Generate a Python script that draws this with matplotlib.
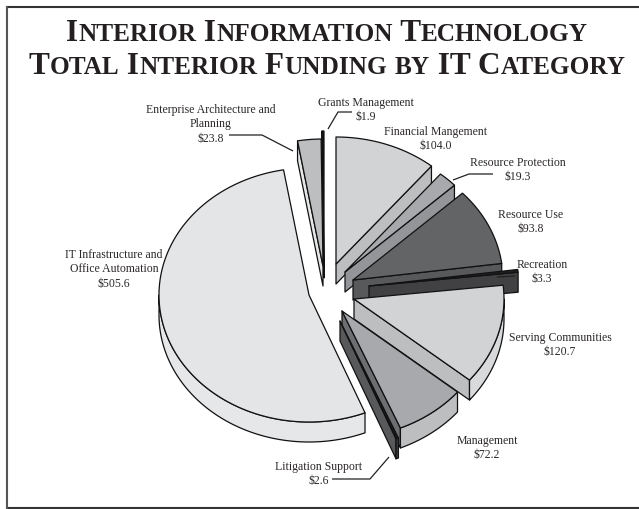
import numpy as np
import matplotlib
matplotlib.use('Agg')
import matplotlib.pyplot as plt
from matplotlib.patches import Polygon

# funding by IT category, clockwise from 12 o'clock
categories = ['Financial Mangement', 'Resource Protection', 'Resource Use', 'Recreation',
              'Serving Communities', 'Management', 'Litigation Support',
              'IT Infrastructure and\nOffice Automation',
              'Enterprise Architecture and\nPlanning', 'Grants Management']
values = [104.0, 19.3, 93.8, 3.3, 120.7, 72.2, 2.6, 505.6, 23.8, 1.9]
title_lines = ['Interior Information Technology', 'Total Interior Funding by IT Category']

# explode offset of each slice in pixels
explode_x = [10, 19, 27, 43, 28, 16, 14, -17, -3, -2]
explode_y = [-24, -16, -8, -2, 11, 23, 33, 7, -22, -30]
top_colors = ['#d1d3d4', '#a7a9ac', '#636466', '#231f20', '#d1d3d4', '#a7a9ac', '#1a1718', '#e4e5e7', '#bcbec0', '#1a1718']
cut_colors = ['#bcbec0', '#939598', '#58595b', '#414042', '#bcbec0', '#6d6e71', '#58595b', '#e4e5e7', '#e6e7e8', '#231f20']
rim_colors = ['#bcbec0', '#939598', '#58595b', '#414042', '#d9dadb', '#bcbec0', '#414042', '#e6e7e8', '#bcbec0', '#231f20']
draw_order = [7, 9, 8, 0, 1, 2, 3, 4, 5, 6]
label_xy = [(436, 131), (518, 162), (531, 214), (542, 264), (560, 337), (487, 440),
            (319, 466), (114, 254), (211, 109), (366, 102)]

CX, CY = 326, 289
A, B = 150, 127
DEPTH = 20
LW = 0.9
INK = '#2b2728'
FONT = 'Liberation Serif'

fig = plt.figure(figsize=(6.39, 5.10), dpi=100)
ax = fig.add_axes([0, 0, 1, 1])
ax.set_xlim(0, 639)
ax.set_ylim(510, 0)
ax.axis('off')


def rim_point(deg, ox, oy):
    t = np.radians(deg)
    return ox + A*np.sin(t), oy - B*np.cos(t)


def arc(d0, d1, ox, oy):
    ts = np.linspace(d0, d1, max(2, int(abs(d1-d0))*2))
    xs, ys = rim_point(ts, ox, oy)
    return np.column_stack([xs, ys])


def add_poly(pts, color, z):
    ax.add_patch(Polygon(pts, closed=True, facecolor=color, edgecolor='#111111',
                         linewidth=LW, joinstyle='round', zorder=z))


def draw_slice(i, start, end, z):
    ox, oy = CX + explode_x[i], CY + explode_y[i]
    drop = np.array([0, DEPTH])
    apex = np.array([[ox, oy]])
    # cut faces, only those turned towards the viewer
    if np.cos(np.radians(start-90)) < 0:
        p = np.array([rim_point(start, ox, oy)])
        add_poly(np.vstack([apex, p, p+drop, apex+drop]), cut_colors[i], z)
    if np.cos(np.radians(end+90)) < 0:
        p = np.array([rim_point(end, ox, oy)])
        add_poly(np.vstack([apex, p, p+drop, apex+drop]), cut_colors[i], z)
    # outer wall on the front half
    lo, hi = max(start, 90), min(end, 270)
    if hi > lo:
        a = arc(lo, hi, ox, oy)
        add_poly(np.vstack([a, (a+drop)[::-1]]), rim_colors[i], z)
    add_poly(np.vstack([apex, arc(start, end, ox, oy)]), top_colors[i], z+0.1)


edges = np.concatenate([[0], np.cumsum(values)]) / np.sum(values) * 360
for n, i in enumerate(draw_order):
    draw_slice(i, edges[i], edges[i+1], 2+n)

# slice labels, value on the last line
for name, val, (x, y) in zip(categories, values, label_xy):
    ax.text(x, y-5, '{0}\n${1:.1f}'.format(name, val), ha='center', va='top',
            family=FONT, fontsize=8.5, color=INK, linespacing=1.27, zorder=30)

# leader lines
leaders = [[(229, 136), (262, 136), (293, 152)],
           [(352, 113), (338, 113), (328, 130)],
           [(493, 175), (469, 175), (453, 181)],
           [(332, 480), (370, 480), (389, 458)],
           [(497, 278), (515, 277)]]
for line in leaders:
    xs, ys = zip(*line)
    ax.plot(xs, ys, color='#222222', lw=0.9, zorder=31, solid_capstyle='butt')

# frame, open on the right
ax.plot([639, 7], [8, 8], color='#333333', lw=1.5, zorder=1)
ax.plot([639, 7], [509, 509], color='#333333', lw=1.5, zorder=1)
ax.plot([7, 7], [8, 509], color='#555555', lw=1.5, zorder=1)


def small_caps(text, y, big=22.5, small=18.2):
    """centre one line of small caps, one text object per run"""
    runs = []
    cur = ''
    cur_up = None
    for ch in text:
        up = not ch.islower()
        if cur and up != cur_up:
            runs.append((cur, cur_up))
            cur = ''
        cur += ch.upper()
        cur_up = up
    runs.append((cur, cur_up))
    r = fig.canvas.get_renderer()
    objs = []
    total = 0
    for s, up in runs:
        t = ax.text(0, y, s, family=FONT, weight='bold', fontsize=big if up else small,
                    color='#231f20', va='baseline', ha='left', zorder=32)
        w, _, _ = r.get_text_width_height_descent(s, t.get_fontproperties(), False)
        objs.append((t, w))
        total += w
    x = 327 - total/2
    for t, w in objs:
        t.set_x(x)
        x += w


small_caps(title_lines[0], 41)
small_caps(title_lines[1], 74)

fig.savefig('out.png', dpi=100)
